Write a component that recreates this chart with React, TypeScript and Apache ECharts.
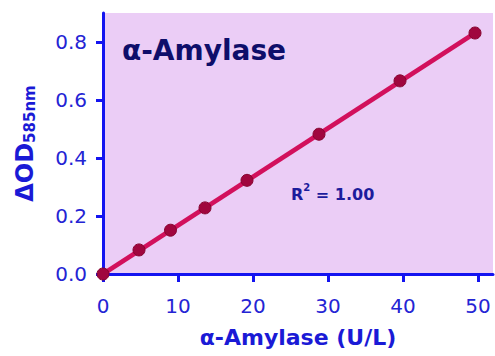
import React, { useEffect, useRef } from "react";
import * as echarts from "echarts";

const concentrations = [0, 4.8, 9.0, 13.6, 19.2, 28.8, 39.6, 49.6];
const deltaOD = [0, 0.083, 0.151, 0.228, 0.323, 0.482, 0.666, 0.831];
const fitX = [0, 49.6];
const fitY = [0, 0.831];
const xTicks = [0, 10, 20, 30, 40, 50];
const yTicks = [0, 0.2, 0.4, 0.6, 0.8];
const titleText = "α-Amylase";
const r2Text = "1.00";
const xName = "α-Amylase (U/L)";

const FONT = "DejaVu Sans";

export default function App() {
  const ref = useRef<HTMLDivElement>(null);
  useEffect(() => {
    if (!ref.current) return;
    const chart = echarts.init(ref.current, undefined, { renderer: "svg" });
    chart.setOption({
      animation: false,
      grid: {
        left: 103,
        top: 13,
        right: 2,
        bottom: 82,
        show: true,
        backgroundColor: "#ebcdf6",
        borderWidth: 0,
      },
      xAxis: {
        type: "value",
        min: 0,
        max: 52,
        interval: 10,
        splitLine: { show: false },
        axisLine: { show: true, onZero: false, lineStyle: { color: "#1414f0", width: 3 } },
        axisTick: { show: true, length: 8, customValues: xTicks, lineStyle: { color: "#1414f0", width: 3 } },
        axisLabel: {
          customValues: xTicks,
          margin: 22,
          color: "#2424d4",
          fontFamily: FONT,
          fontSize: 20,
        },
        name: xName,
        nameLocation: "middle",
        nameGap: 52,
        nameTextStyle: { color: "#1a1ad6", fontFamily: FONT, fontWeight: "bold", fontSize: 22 },
      },
      yAxis: {
        type: "value",
        min: 0,
        max: 0.9,
        interval: 0.2,
        splitLine: { show: false },
        axisLine: { show: true, onZero: false, lineStyle: { color: "#1414f0", width: 3 } },
        axisTick: { show: true, length: 7, customValues: yTicks, lineStyle: { color: "#1414f0", width: 3 } },
        axisLabel: {
          customValues: yTicks,
          margin: 16,
          color: "#2424d4",
          fontFamily: FONT,
          fontSize: 20,
          formatter: (v: number) => v.toFixed(1),
        },
        name: "{d|ΔOD}{s|585nm}",
        nameLocation: "middle",
        nameRotate: 90,
        nameGap: 66,
        nameTextStyle: {
          rich: {
            d: { color: "#1a1ad6", fontFamily: FONT, fontWeight: "bold", fontSize: 24, verticalAlign: "bottom" },
            s: { color: "#1a1ad6", fontFamily: FONT, fontWeight: "bold", fontSize: 15, verticalAlign: "bottom" },
          },
        },
      },
      graphic: [
        {
          type: "text",
          left: 122,
          top: 36,
          style: {
            text: titleText,
            fill: "#0e0e6a",
            font: `bold 28px "${FONT}"`,
          },
        },
        {
          type: "text",
          left: 291,
          top: 182,
          style: {
            text: "{r|R}{p|2}{r| = " + r2Text + "}",
            rich: {
              r: { fill: "#1c1c9c", fontFamily: FONT, fontWeight: "bold", fontSize: 16, verticalAlign: "bottom", lineHeight: 20 },
              p: { fill: "#1c1c9c", fontFamily: FONT, fontWeight: "bold", fontSize: 10, verticalAlign: "top", lineHeight: 20 },
            },
          },
        },
      ],
      series: [
        {
          type: "line",
          data: fitX.map((x, i) => [x, fitY[i]]),
          symbol: "none",
          lineStyle: { color: "#d2105c", width: 4.5 },
          z: 2,
        },
        {
          type: "scatter",
          data: concentrations.map((x, i) => [x, deltaOD[i]]),
          symbolSize: 12,
          itemStyle: { color: "#a0063e", borderColor: "#86042f", borderWidth: 1, opacity: 1 },
          z: 3,
        },
      ],
    });
    return () => chart.dispose();
  }, []);
  return <div ref={ref} style={{ width: 495, height: 356, position: "absolute", left: 0, top: 0 }} />;
}
